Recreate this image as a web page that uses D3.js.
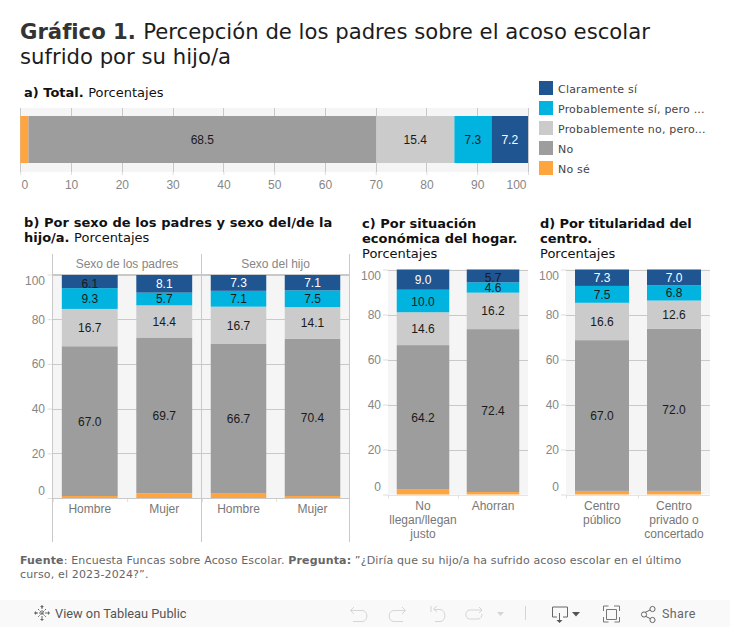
<!DOCTYPE html>
<html lang="es"><head><meta charset="utf-8">
<script src="https://cdn.jsdelivr.net/npm/d3@7"></script>
<style>html,body{margin:0;padding:0;background:#fff;overflow:hidden}svg{display:block}
.dv{font-family:"DejaVu Sans"}.lb{font-family:"Liberation Sans"}</style></head><body>
<script>
// ---- data ----
const seriesNames = ["No sé","No","Probablemente no","Probablemente sí","Claramente sí"];
const seriesColors = ["#ffa540","#9d9d9d","#cbcbcb","#00b4df","#1f5591"];
const legendLabels = ["Claramente sí","Probablemente sí, pero ...","Probablemente no, pero...","No","No sé"];

const totalNoSe=[1.6], totalNo=[68.5], totalProbNo=[15.4], totalProbSi=[7.3], totalClaro=[7.2];

const padresCats=["Hombre","Mujer"];
const padresNoSe=[0.9,2.1], padresNo=[67.0,69.7], padresProbNo=[16.7,14.4], padresProbSi=[9.3,5.7], padresClaro=[6.1,8.1];
const hijoCats=["Hombre","Mujer"];
const hijoNoSe=[2.2,0.9], hijoNo=[66.7,70.4], hijoProbNo=[16.7,14.1], hijoProbSi=[7.1,7.5], hijoClaro=[7.3,7.1];
const econCats=[["No","llegan/llegan","justo"],["Ahorran"]];
const econNoSe=[2.2,1.1], econNo=[64.2,72.4], econProbNo=[14.6,16.2], econProbSi=[10.0,4.6], econClaro=[9.0,5.7];
const centroCats=[["Centro","público"],["Centro","privado o","concertado"]];
const centroNoSe=[1.6,1.6], centroNo=[67.0,72.0], centroProbNo=[16.6,12.6], centroProbSi=[7.5,6.8], centroClaro=[7.3,7.0];
const xTicksTotal=[0,10,20,30,40,50,60,70,80,90,100];
const yTicks=[0,20,40,60,80,100];

// ---- drawing ----
const GRID="#c9c9c9", BG="#f5f5f5";
const svg=d3.select("body").append("svg").attr("width",730).attr("height",627);
const stackRows=(cols)=>{const n=cols[0].length;return d3.range(n).map(i=>{let acc=0;return cols.map((c,s)=>{const r={s,v:c[i],y0:acc,y1:acc+c[i]};acc+=c[i];return r;});});};
const labelFill=d=>d.s===4&&d.v>=7?"#fff":"#1a1a1a";

function rich(x,y,parts,opt){
  const t=svg.append("text").attr("class","dv").attr("x",x).attr("y",y)
    .attr("font-size",opt.size).attr("letter-spacing",opt.ls||0).attr("fill",opt.fill||"#111");
  parts.forEach(p=>t.append("tspan").attr("font-weight",p[1]?"bold":"normal").attr("fill",p[2]||null).text(p[0]));
}
// titles
rich(20,39,[["Gráfico 1. ",1,"#333"],["Percepción de los padres sobre el acoso escolar",0]],{size:21.2,fill:"#1c1c1c"});
rich(20,64,[["sufrido por su hijo/a",0]],{size:21.2,fill:"#1c1c1c"});
rich(24,97,[["a) Total. ",1],["Porcentajes",0]],{size:13});
rich(24,227,[["b) Por sexo de los padres y sexo del/de la",1]],{size:13,ls:.07});
rich(24,242,[["hijo/a. ",1],["Porcentajes",0]],{size:13});
rich(362,228,[["c) Por situación",1]],{size:13});
rich(362,243,[["económica del hogar.",1]],{size:13});
rich(362,258,[["Porcentajes",0]],{size:13});
rich(540,228,[["d) Por titularidad del",1]],{size:13,ls:-.1});
rich(540,243,[["centro.",1]],{size:13});
rich(540,258,[["Porcentajes",0]],{size:13});

// panel a
{
  const x=d3.scaleLinear().domain([0,100]).range([20.3,528]);
  const g=svg.append("g");
  g.append("rect").attr("x",20).attr("y",108).attr("width",508).attr("height",64).attr("fill",BG);
  g.selectAll(".g").data(xTicksTotal).join("line").attr("x1",d=>Math.round(x(d))+.5).attr("x2",d=>Math.round(x(d))+.5)
    .attr("y1",108).attr("y2",172).attr("stroke",GRID);
  const ax=d3.axisBottom(x).tickValues(xTicksTotal).tickSize(3).tickPadding(5).tickFormat(d3.format("d"));
  const ag=g.append("g").attr("transform","translate(0,172)").call(ax);
  ag.select(".domain").remove();
  ag.selectAll("line").attr("stroke","#ddd");
  ag.selectAll("text").attr("font-size",12).attr("fill","#868686").attr("font-family","Liberation Sans");
  ag.selectAll(".tick").filter(d=>d===0).select("text").attr("dx",4);
  ag.selectAll(".tick").filter(d=>d===100).select("text").attr("dx",-12);
  const segs=stackRows([totalNoSe,totalNo,totalProbNo,totalProbSi,totalClaro])[0];
  g.selectAll(".s").data(segs).join("rect").attr("x",d=>x(d.y0)).attr("width",d=>x(d.y1)-x(d.y0)).attr("y",116).attr("height",47)
    .attr("fill",d=>seriesColors[d.s]);
  g.selectAll(".l").data(segs.filter(d=>d.s>0)).join("text").attr("class","lb").attr("x",d=>(x(d.y0)+x(d.y1))/2).attr("y",143.5)
    .attr("text-anchor","middle").attr("font-size",12).attr("fill",labelFill).text(d=>d.v.toFixed(1));
}

// legend
{
  const ly=d3.scalePoint().domain(legendLabels).range([81,161]);
  const colorOf=d=>seriesColors[4-legendLabels.indexOf(d)];
  svg.selectAll(".sw").data(legendLabels).join("rect").attr("x",539).attr("y",d=>ly(d)).attr("width",14).attr("height",14).attr("fill",colorOf);
  svg.selectAll(".lt").data(legendLabels).join("text").attr("class","dv").attr("x",558).attr("y",d=>ly(d)+11.5)
    .attr("font-size",11).attr("letter-spacing",.2).attr("fill","#444").text(d=>d);
}

function pane(o){
  const g=svg.append("g");
  const y=d3.scaleLinear().domain([0,100]).range([o.y0,o.y100]);
  const x=d3.scaleBand().domain(d3.range(o.cats.length)).range([o.x0,o.x1]).paddingInner(.25).paddingOuter(.125);
  g.append("rect").attr("x",o.x0).attr("y",o.y100).attr("width",o.x1-o.x0).attr("height",o.y0-o.y100).attr("fill",BG);
  g.selectAll(".g").data(yTicks).join("line").attr("x1",o.x0).attr("x2",o.x1)
    .attr("y1",d=>Math.round(y(d))+.5).attr("y2",d=>Math.round(y(d))+.5).attr("stroke",d=>d===0?"#e4e4e4":GRID);
  if(o.axis){
    const ay=g.append("g").attr("transform",`translate(${o.x0},0)`).call(d3.axisLeft(y).tickValues(yTicks).tickSize(5).tickPadding(o.tp));
    ay.select(".domain").remove();
    ay.selectAll("line").attr("stroke","#ddd");
    ay.selectAll("text").attr("font-family","Liberation Sans").attr("font-size",12).attr("fill","#868686");
    ay.selectAll(".tick").filter(d=>d===100).select("text").attr("dy",o.dy100);
    ay.selectAll(".tick").filter(d=>d===0).select("text").attr("dy",o.dy0);
  }
  const rows=stackRows(o.cols);
  const col=g.selectAll(".c").data(rows).join("g").attr("transform",(d,i)=>`translate(${x(i)},0)`);
  col.selectAll("rect").data(d=>d).join("rect").attr("width",x.bandwidth()).attr("y",d=>y(d.y1)).attr("height",d=>y(d.y0)-y(d.y1)).attr("fill",d=>seriesColors[d.s]);
  col.selectAll("text").data(d=>d.filter(e=>e.s>0)).join("text").attr("x",x.bandwidth()/2)
    .attr("y",d=>(y(d.y0)+y(d.y1))/2+4.5+(d.s===4&&d.v<7?2:0)).attr("text-anchor","middle")
    .attr("font-family","Liberation Sans").attr("font-size",12).attr("fill",labelFill).text(d=>d.v.toFixed(1));
  const names=o.cats.map(c=>Array.isArray(c)?c:[c]);
  names.forEach((lines,i)=>lines.forEach((t,k)=>{
    g.append("text").attr("x",x(i)+x.bandwidth()/2).attr("y",o.y0+15+k*14).attr("text-anchor","middle")
      .attr("font-family","Liberation Sans").attr("font-size",12).attr("fill","#777").text(t);
  }));
  const seps=d3.range(o.cats.length).map(i=>o.x0+(o.x1-o.x0)*i/o.cats.length);
  g.selectAll(".t").data(seps).join("line").attr("x1",d=>Math.round(d)+.5).attr("x2",d=>Math.round(d)+.5)
    .attr("y1",o.y0).attr("y2",o.y0+4).attr("stroke","#e2e2e2");
  return {g,y,x};
}
const bTop=274.5,bBot=498;
pane({x0:52.5,x1:201.5,y0:bBot,y100:bTop,cats:padresCats,cols:[padresNoSe,padresNo,padresProbNo,padresProbSi,padresClaro],axis:true,tp:2.5,dy100:".86em",dy0:"-.27em"});
pane({x0:201.5,x1:349.5,y0:bBot,y100:bTop,cats:hijoCats,cols:[hijoNoSe,hijoNo,hijoProbNo,hijoProbSi,hijoClaro]});
[52.5,201.5,349.5].forEach(x=>svg.append("line").attr("x1",x).attr("x2",x).attr("y1",254).attr("y2",542).attr("stroke",GRID));
[274.5,498.5].forEach(y=>svg.append("line").attr("x1",52).attr("x2",350).attr("y1",y).attr("y2",y).attr("stroke",GRID));
[["Sexo de los padres",127],["Sexo del hijo",275.5]].forEach(h=>svg.append("text").attr("x",h[1]).attr("y",268).attr("text-anchor","middle")
  .attr("font-family","Liberation Sans").attr("font-size",12).attr("fill","#868686").text(h[0]));

pane({x0:388,x1:528,y0:494.5,y100:269.5,cats:econCats,cols:[econNoSe,econNo,econProbNo,econProbSi,econClaro],axis:true,tp:2,dy100:".84em",dy0:"-.33em"});
pane({x0:566,x1:710,y0:494.5,y100:269.5,cats:centroCats,cols:[centroNoSe,centroNo,centroProbNo,centroProbSi,centroClaro],axis:true,tp:2,dy100:".84em",dy0:"-.33em"});

// footer
rich(20,564,[["Fuente",1,"#666"],[": Encuesta Funcas sobre Acoso Escolar. ",0],["Pregunta:",1,"#666"],[" ”¿Diría que su hijo/a ha sufrido acoso escolar en el último",0]],{size:11,ls:.15,fill:"#666"});
rich(20,578,[["curso, el 2023-2024?”.",0]],{size:11,ls:.15,fill:"#666"});

// toolbar
svg.append("rect").attr("y",600).attr("width",730).attr("height",27).attr("fill","#f9f9f9");
svg.append("text").attr("x",55).attr("y",617.5).attr("font-family","Roboto").attr("font-size",12.8).attr("fill","#555").text("View on Tableau Public");
svg.append("text").attr("x",662).attr("y",618).attr("font-family","Roboto").attr("font-size",12.5).attr("letter-spacing",.4).attr("fill","#666").text("Share");
const ic=(d,c,w)=>svg.append("path").attr("d",d).attr("fill","none").attr("stroke",c).attr("stroke-width",w||1);
ic("M42 607v12M36 613h12M38 609l8 8M46 609l-8 8","#666",1).attr("stroke-dasharray","2 1");
ic("M42 605v3M40.5 606.5h3M42 618v3M40.5 619.5h3M34 613h3M35.5 611.5v3M47 613h3M48.5 611.5v3","#666");
const L="#d5d5d5";
ic("M354 607l-3.500 3.500l3.500 3.500M351 610.500h11c6.500 0 6.500 11 0 11h-9",L);
ic("M402 607l3.500 3.500l-3.500 3.500M405 610.500h-11c-6.500 0-6.500 11 0 11h9",L);
ic("M431 606v6M437 606l-3.500 3l3.500 3M434 609.500h6c6.500 0 6.500 12 0 12h-5",L);
ic("M479 607l3 3l-3 3M482 610h-12c-5.500 0-5.500 9 0 9h8c3 0 4-3 4-5",L);
svg.append("path").attr("d","M497 612h7l-3.500 4z").attr("fill",L);
ic("M525.500 606v14",L);
ic("M557 617h-4.500v-10h15v10h-4.500M559.500 613v8","#666");
svg.append("path").attr("d","M556.500 620h6l-3 3z").attr("fill","#555");
svg.append("path").attr("d","M572 612h8l-4 4.500z").attr("fill","#555");
ic("M603.500 611v-5h5M614 606h5.500v5M619.500 617v5h-5M608.500 622h-5v-5","#777");
ic("M606.500 609.500h10v10h-10z","#777");
ic("M644 613l8-4M644 615.500l8 4","#666");
svg.append("g").selectAll("circle").data([[644,614.500],[652.500,609],[652.500,620]]).join("circle").attr("cx",d=>d[0]).attr("cy",d=>d[1]).attr("r",2.600).attr("fill","#f9f9f9").attr("stroke","#666");
</script></body></html>
